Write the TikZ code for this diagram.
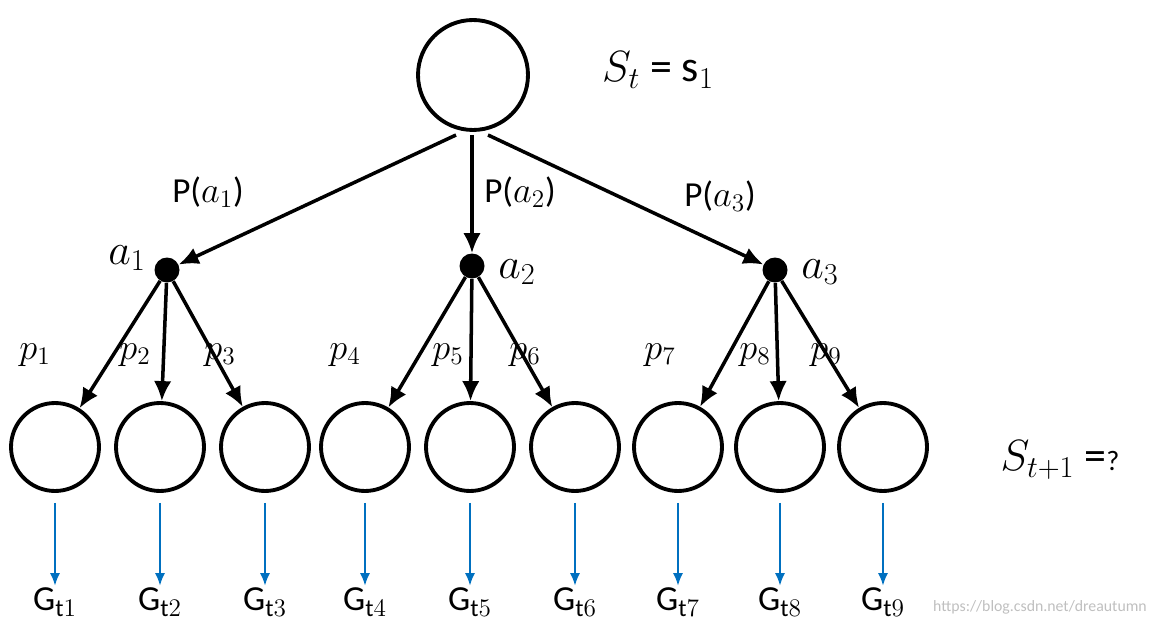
\documentclass[tikz,border=0pt]{standalone}
\usepackage{fontspec}
\setmainfont{Carlito}
\usetikzlibrary{arrows.meta, positioning}
\tikzset{
  state/.style = {draw, circle, line width=2.2pt, minimum size=#1},
  act/.style   = {circle, fill=black, inner sep=0pt, minimum size=0.5cm},
  branch/.style = {-{Latex[length=4mm,width=3.5mm]}, line width=2pt},
  ret/.style   = {-{Latex[length=2.5mm,width=2mm]}, line width=1pt, draw={rgb,255:red,0;green,112;blue,192}},
  lbl/.style   = {font=\fontsize{20}{24}\selectfont, inner sep=1pt},
}
\begin{document}
\begin{tikzpicture}[x=0.02cm, y=-0.02cm]
    \useasboundingbox (0,0) rectangle (1152,631);
    \node (s0) [state=2.2cm] at (473,75) {};
    \node [lbl, font=\fontsize{25}{30}\selectfont] at (658,70) {$S_t$ = s$_1$};

    % actions
    \node (a1) [act] at (167,270) {};
    \node (a2) [act] at (472,266) {};
    \node (a3) [act] at (775,270) {};
    \node [lbl, font=\fontsize{24}{28}\selectfont] at (127,258) {$a_1$};
    \node [lbl, font=\fontsize{24}{28}\selectfont] at (517,272) {$a_2$};
    \node [lbl, font=\fontsize{24}{28}\selectfont] at (820,272) {$a_3$};

    \coordinate (o1) at (456,135);
    \coordinate (o2) at (472,135);
    \coordinate (o3) at (488,135);
    \draw [branch] (o1) -- (a1);
    \draw [branch] (o2) -- (a2);
    \draw [branch] (o3) -- (a3);
    \node [lbl] at (208,192) {P($a_1$)};
    \node [lbl] at (520,192) {P($a_2$)};
    \node [lbl] at (720,196) {P($a_3$)};

    % next states
    \foreach \i/\x/\a/\px in {1/55/1/35, 2/160/1/135, 3/265/1/220,
                              4/365/2/345, 5/470/2/448, 6/575/2/525,
                              7/678/3/660, 8/780/3/755, 9/883/3/826} {
        \node (s\i) [state=1.76cm] at (\x,447) {};
        \draw [branch] (a\a) -- (s\i);
        \node [lbl] at (\px,355) {$p_{\i}$};
        \node (g\i) [lbl] at (\x,602) {G$_{\mathrm{t}\i}$};
        \draw [ret] (s\i.south) ++(0,10) -- (g\i.north);
    }
    \node [lbl, font=\fontsize{25}{30}\selectfont] at (1060,460) {$S_{t+1}$ =\raisebox{0pt}{\fontsize{16}{18}\selectfont ?}};
    \node [font=\fontsize{9}{11}\selectfont, text=black!25] at (1040,607) {https://blog.csdn.net/dreautumn};
\end{tikzpicture}
\end{document}
